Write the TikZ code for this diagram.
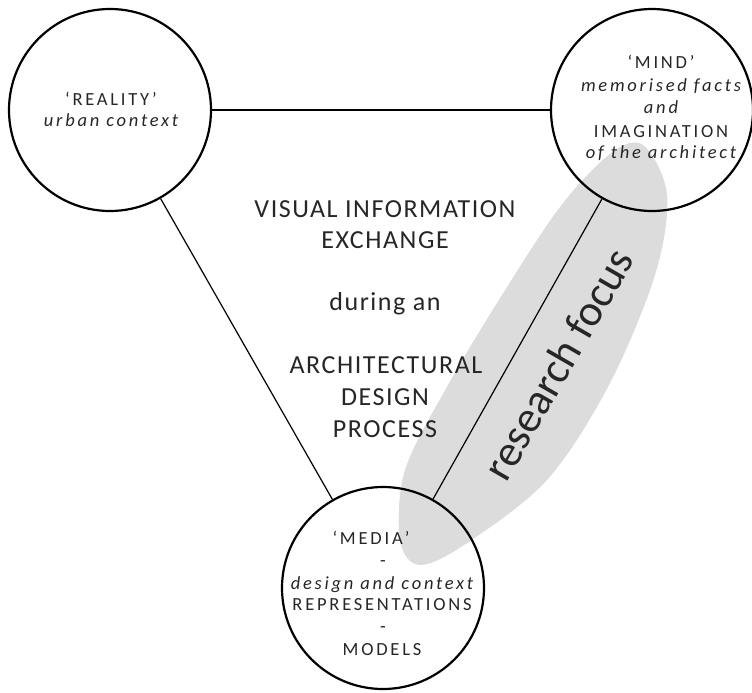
\documentclass[tikz,border=0pt]{standalone}
\usepackage{fontspec}
\setmainfont{Carlito}
\definecolor{focusgray}{HTML}{DCDCDC}
\definecolor{ink}{HTML}{262626}
\begin{document}
\begin{tikzpicture}[x=1pt,y=-1pt,
  ring/.style={circle, draw=black, line width=2.2pt, minimum size=202pt, inner sep=0pt},
  link/.style={draw=black, line width=1.2pt},
  hlink/.style={draw=black, line width=1.8pt},
  ctext/.style={font=\fontsize{18.5}{22}\selectfont\addfontfeatures{LetterSpace=15}, text=ink, anchor=base, inner sep=0pt},
  itext/.style={ctext, font=\fontsize{18.5}{22}\selectfont\itshape\addfontfeatures{LetterSpace=15}},
  mtext/.style={font=\fontsize{26}{30}\selectfont\addfontfeatures{LetterSpace=6}, text=ink, anchor=base, inner sep=0pt},
  focustext/.style={font=\fontsize{44}{50}\selectfont, text=ink, inner sep=0pt}
]
\useasboundingbox (0,0) rectangle (752,693);
% research focus area
\fill[focusgray] plot[smooth cycle, tension=0.55] coordinates {
  (643,145) (667,195) (655,275) (609,385) (547,480) (467,543) (420,565)
  (400,540) (405,470) (448,385) (502,295) (560,207) (610,154)};
% circles
\node[ring] (real) at (110,110) {};
\node[ring] (mind) at (652,110) {};
\node[ring] (media) at (383,588) {};
% connectors
\draw[hlink] (real) -- (mind);
\draw[link] (real) -- (media);
\draw[link] (mind) -- (media);
% REALITY
\node[ctext] (r1) at (111,105) {‘REALITY’};
\node[itext] (r2) at (111,126) {urban context};
% MIND
\node[ctext] (m1) at (661,68) {‘MIND’};
\node[itext] (m2) at (661,91) {memorised facts};
\node[itext] (m3) at (661,113) {and};
\node[ctext] (m4) at (661,137) {IMAGINATION};
\node[itext] (m5) at (661,158) {of the architect};
% MEDIA
\node[ctext] (d1) at (371,544) {‘MEDIA’};
\node[ctext] (d2) at (383,566) {-};
\node[itext] (d3) at (382,589) {design and context};
\node[ctext] (d4) at (382,610) {REPRESENTATIONS};
\node[ctext] (d5) at (383,632) {-};
\node[ctext] (d6) at (382,655) {MODELS};
% central text
\node[mtext] (c1) at (385,217) {VISUAL INFORMATION};
\node[mtext] (c2) at (385,248) {EXCHANGE};
\node[mtext] (c3) at (385,310) {during an};
\node[mtext] (c4) at (386,373) {ARCHITECTURAL};
\node[mtext] (c5) at (385,405) {DESIGN};
\node[mtext] (c6) at (385,437) {PROCESS};
% research focus label
\node[focustext, rotate=60] (focus) at (558,364) {research focus};
\end{tikzpicture}
\end{document}
